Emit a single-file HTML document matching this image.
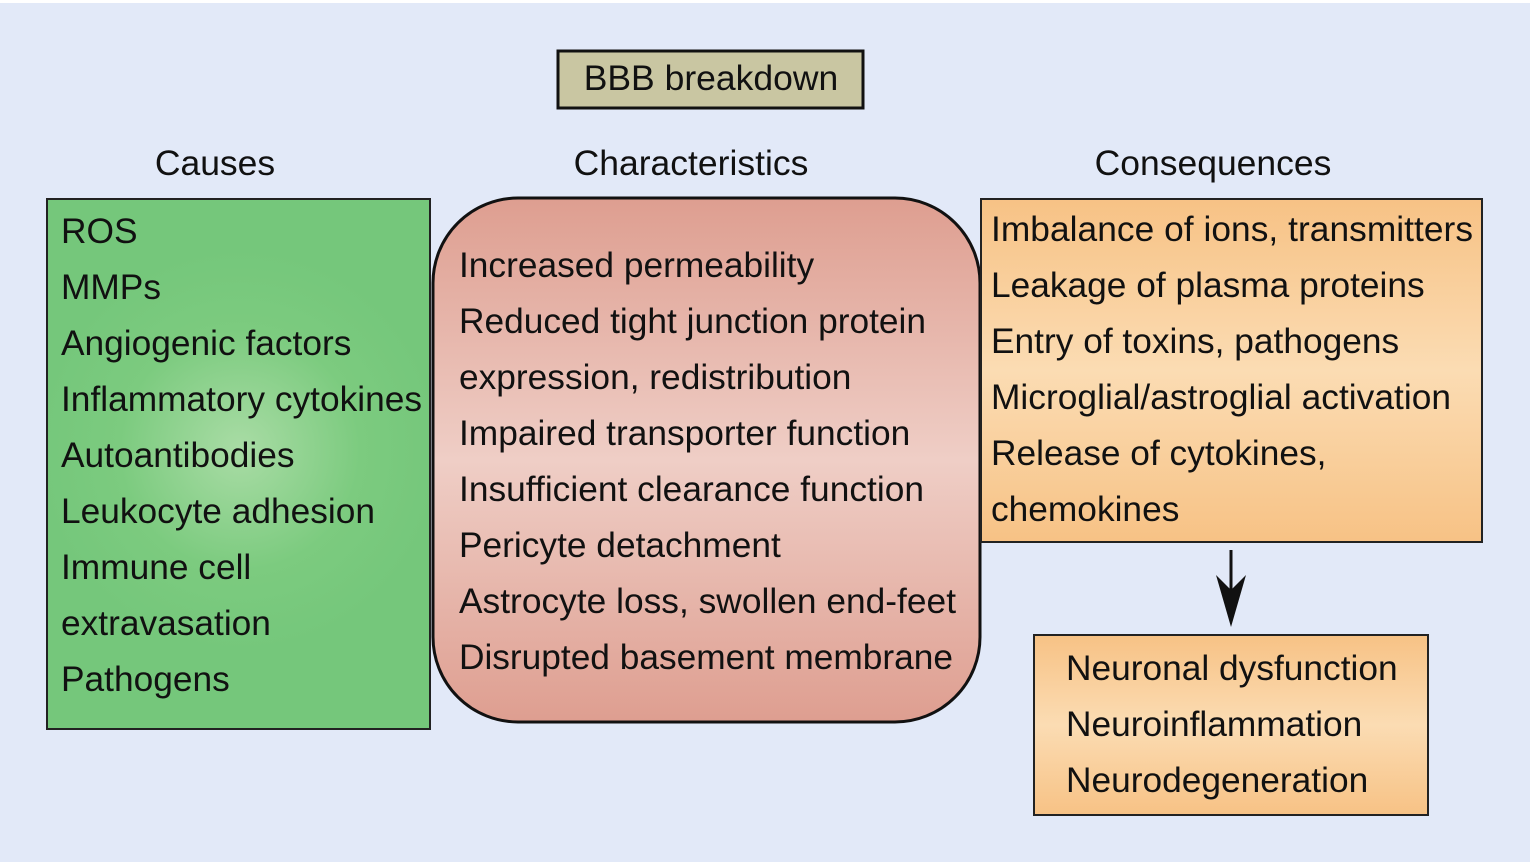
<!DOCTYPE html>
<html><head><meta charset="utf-8"><style>
html,body{margin:0;padding:0;background:#fff;}
svg{display:block;}
text{font-family:"Liberation Sans",Arial,sans-serif;fill:#111;}
</style></head><body>
<svg width="1534" height="863" viewBox="0 0 1534 863" xmlns="http://www.w3.org/2000/svg">
<defs>
<radialGradient id="g" cx="240" cy="450" r="200" gradientUnits="userSpaceOnUse">
<stop offset="0" stop-color="#a9dca5"/><stop offset="0.6" stop-color="#7ccb7f"/><stop offset="1" stop-color="#75c77b"/></radialGradient>
<linearGradient id="r" x1="0" y1="0" x2="0" y2="1">
<stop offset="0" stop-color="#de9e90"/><stop offset="0.5" stop-color="#efcec6"/><stop offset="1" stop-color="#de9e90"/></linearGradient>
<linearGradient id="o" x1="0" y1="0" x2="0" y2="1">
<stop offset="0" stop-color="#f7c285"/><stop offset="0.5" stop-color="#fbdcb3"/><stop offset="1" stop-color="#f7c285"/></linearGradient>
</defs>
<rect x="0" y="3" width="1530" height="859" fill="#e2e9f8"/>
<rect x="558" y="51" width="305" height="57" fill="#c9c6a2" stroke="#111" stroke-width="3"/>
<text x="711" y="90" font-size="35.5" text-anchor="middle">BBB breakdown</text>
<text x="215" y="175" font-size="35.5" text-anchor="middle">Causes</text>
<text x="691" y="175" font-size="35.5" text-anchor="middle">Characteristics</text>
<text x="1213" y="175" font-size="35.5" text-anchor="middle">Consequences</text>
<rect x="47" y="199" width="383" height="530" fill="url(#g)" stroke="#222" stroke-width="2"/>
<rect x="433" y="198" width="547" height="524" rx="85" ry="85" fill="url(#r)" stroke="#111" stroke-width="3"/>
<rect x="981" y="199" width="501" height="343" fill="url(#o)" stroke="#222" stroke-width="2"/>
<rect x="1034" y="635" width="394" height="180" fill="url(#o)" stroke="#222" stroke-width="2"/>
<line x1="1231" y1="550" x2="1231" y2="600" stroke="#111" stroke-width="3"/>
<path d="M1216,575 L1231,627 L1246,575 L1231,590 Z" fill="#111"/>
<g font-size="35.3">
<text x="61" y="243">ROS</text>
<text x="61" y="299">MMPs</text>
<text x="61" y="355">Angiogenic factors</text>
<text x="61" y="411" textLength="361">Inflammatory cytokines</text>
<text x="61" y="467">Autoantibodies</text>
<text x="61" y="523">Leukocyte adhesion</text>
<text x="61" y="579">Immune cell</text>
<text x="61" y="635">extravasation</text>
<text x="61" y="691">Pathogens</text>
<text x="459" y="277">Increased permeability</text>
<text x="459" y="333" textLength="467">Reduced tight junction protein</text>
<text x="459" y="389">expression, redistribution</text>
<text x="459" y="445">Impaired transporter function</text>
<text x="459" y="501" textLength="465">Insufficient clearance function</text>
<text x="459" y="557">Pericyte detachment</text>
<text x="459" y="613" textLength="497">Astrocyte loss, swollen end-feet</text>
<text x="459" y="669" textLength="494">Disrupted basement membrane</text>
<text x="991" y="241" textLength="482">Imbalance of ions, transmitters</text>
<text x="991" y="297">Leakage of plasma proteins</text>
<text x="991" y="353">Entry of toxins, pathogens</text>
<text x="991" y="409" textLength="460">Microglial/astroglial activation</text>
<text x="991" y="465">Release of cytokines,</text>
<text x="991" y="521">chemokines</text>
<text x="1066" y="680">Neuronal dysfunction</text>
<text x="1066" y="736">Neuroinflammation</text>
<text x="1066" y="792">Neurodegeneration</text>
</g>
</svg>
</body></html>
